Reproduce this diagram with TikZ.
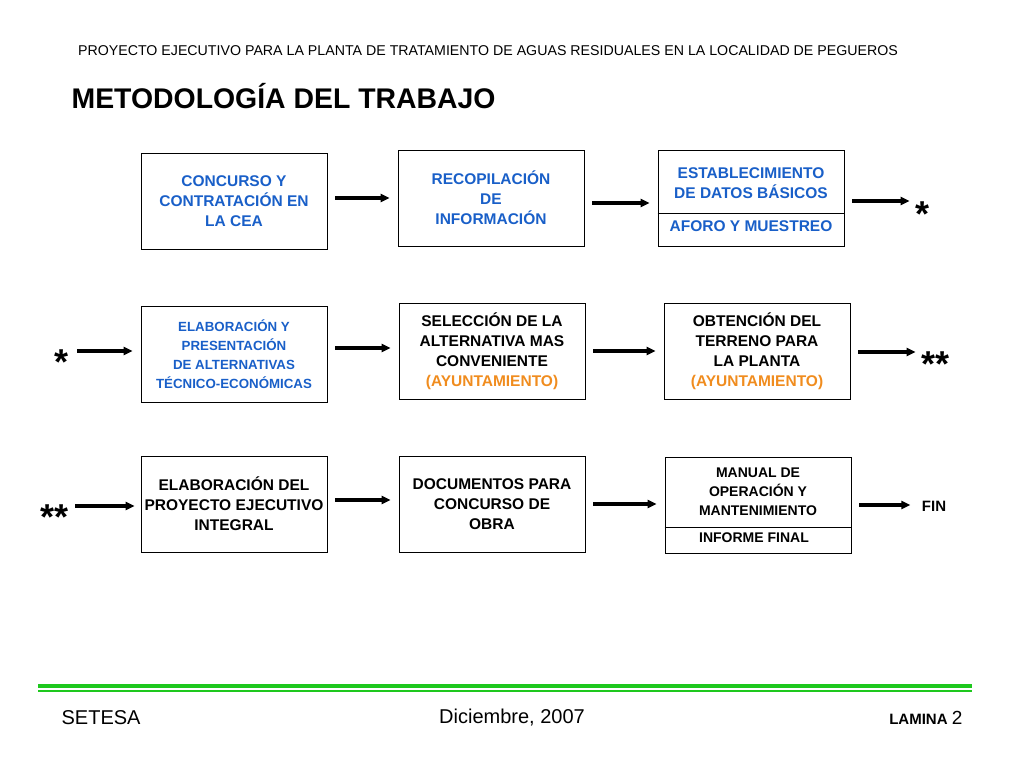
\documentclass[tikz,border=0pt]{standalone}
\usepackage{fontspec}
\setmainfont{Liberation Sans}
\usetikzlibrary{arrows.meta}
\definecolor{boxblue}{RGB}{25,95,200}
\definecolor{ayunt}{RGB}{240,140,30}
\definecolor{lamgreen}{RGB}{30,200,30}

\begin{document}
\begin{tikzpicture}[x=1pt,y=-1pt,>={Triangle[length=9pt,width=8pt]},
                    semithick]
  \tikzstyle{stage}=[draw=black,thick,minimum width=186pt,minimum height=96pt,
                     align=center,font=\bfseries\fontsize{15.5}{20}\selectfont,inner sep=1pt]
  \tikzstyle{flow}=[->,line width=3.2pt,shorten <=8pt,shorten >=8pt]
  \tikzstyle{starmark}=[font=\bfseries\fontsize{36}{36}\selectfont,inner sep=2pt]
  \useasboundingbox (0,0) rectangle (1024,768);

  % header
  \node (head) at (488,51) {\fontsize{14.2}{16}\selectfont PROYECTO EJECUTIVO PARA LA PLANTA DE TRATAMIENTO DE AGUAS RESIDUALES EN LA LOCALIDAD DE PEGUEROS};
  \node[anchor=west] (title) at (68,96) {\bfseries\fontsize{28.4}{30}\selectfont METODOLOGÍA DEL TRABAJO};

  % row 1
  \node[stage,text=boxblue] (conc) at (234,201) {CONCURSO Y\\CONTRATACIÓN EN\\LA CEA};
  \node[stage,text=boxblue] (reco) at (491,198) {RECOPILACIÓN\\DE\\INFORMACIÓN};
  \node[stage,text=boxblue,text depth=30pt] (esta) at (751,198) {ESTABLECIMIENTO\\DE DATOS BÁSICOS};
  \node[text=boxblue,font=\bfseries\fontsize{15.5}{19}\selectfont] (afor) at (751,226) {AFORO Y MUESTREO};
  \draw[thick] (esta.west |- 0,213) -- (esta.east |- 0,213);
  \node[starmark] (s1) at (922,214) {*};

  % row 2
  \node[starmark] (s2) at (62,362) {*};
  \node[stage,text=boxblue,font=\bfseries\fontsize{13.3}{19}\selectfont] (elab) at (234,354) {ELABORACIÓN Y\\PRESENTACIÓN\\DE ALTERNATIVAS\\TÉCNICO-ECONÓMICAS};
  \node[stage] (sele) at (492,351) {SELECCIÓN DE LA\\ALTERNATIVA MAS\\CONVENIENTE\\\textcolor{ayunt}{(AYUNTAMIENTO)}};
  \node[stage] (obte) at (757,351) {OBTENCIÓN DEL\\TERRENO PARA\\LA PLANTA\\\textcolor{ayunt}{(AYUNTAMIENTO)}};
  \node[starmark] (s3) at (935,364) {**};

  % row 3
  \node[starmark] (s4) at (55,517) {**};
  \node[stage] (proy) at (234,504) {ELABORACIÓN DEL\\PROYECTO EJECUTIVO\\INTEGRAL};
  \node[stage] (docu) at (492,504) {DOCUMENTOS PARA\\CONCURSO DE\\OBRA};
  \node[stage,text depth=26pt,font=\bfseries\fontsize{14}{19}\selectfont] (manu) at (758,505) {MANUAL DE\\OPERACIÓN Y\\MANTENIMIENTO};
  \node[font=\bfseries\fontsize{14}{19}\selectfont] (info) at (754,538) {INFORME FINAL};
  \draw[thick] (manu.west |- 0,527) -- (manu.east |- 0,527);
  \node[font=\bfseries\fontsize{15}{16}\selectfont] (fin) at (934,506) {FIN};

  % arrows
  \draw[flow] (conc.east |- 0,198) -- (reco.west |- 0,198);
  \draw[flow] (reco.east |- 0,203) -- (esta.west |- 0,203);
  \draw[flow,shorten >=3pt] (esta.east |- 0,201) -- (s1.west |- 0,201);
  \draw[flow,shorten <=6pt] (s2.east |- 0,351) -- (elab.west |- 0,351);
  \draw[flow] (elab.east |- 0,348) -- (sele.west |- 0,348);
  \draw[flow] (sele.east |- 0,351) -- (obte.west |- 0,351);
  \draw[flow,shorten >=3pt] (obte.east |- 0,352) -- (s3.west |- 0,352);
  \draw[flow,shorten <=4pt,shorten >=6pt] (s4.east |- 0,506) -- (proy.west |- 0,506);
  \draw[flow] (proy.east |- 0,500) -- (docu.west |- 0,500);
  \draw[flow] (docu.east |- 0,504) -- (manu.west |- 0,504);
  \draw[flow] (manu.east |- 0,505) -- (fin.west |- 0,505);

  % footer
  \fill[lamgreen] (38,684) rectangle (972,688);
  \fill[lamgreen] (38,690) rectangle (972,691.5);
  \node[anchor=west] (firm) at (58,718) {\fontsize{20}{22}\selectfont SETESA};
  \node (fech) at (512,718) {\fontsize{20}{22}\selectfont Diciembre, 2007};
  \node[anchor=east] (lam) at (966,718) {\bfseries\fontsize{15}{16}\selectfont LAMINA \mdseries\fontsize{19}{20}\selectfont 2};
\end{tikzpicture}
\end{document}
